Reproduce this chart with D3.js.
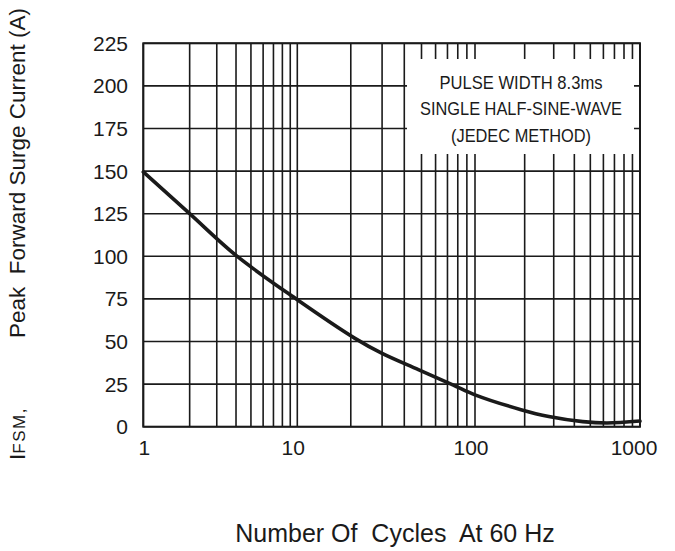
<!DOCTYPE html>
<html>
<head>
<meta charset="utf-8">
<script src="https://cdn.jsdelivr.net/npm/d3@7"></script>
<style>
  html, body { margin: 0; padding: 0; background: #fff; }
  svg { display: block; }
  text { font-family: "Liberation Sans", Arial, Helvetica, sans-serif; fill: #1a1a1a; }
</style>
</head>
<body>
<svg id="chart" width="675" height="551"></svg>
<script>
// ---- data ----
const cycles  = [1, 2, 4, 10, 21, 30, 48, 75, 100, 190, 280, 450, 630, 1000];
const current = [149.5, 125, 100.5, 74.5, 52, 43, 33.5, 24.6, 18.7, 10, 6, 3, 2.2, 3.3];
const xTickValues = [1, 10, 100, 1000];
const xTickLabels = ["1", "10", "100", "1000"];
const yTickValues = [0, 25, 50, 75, 100, 125, 150, 175, 200, 225];
const legendLines = ["PULSE WIDTH 8.3ms", "SINGLE HALF-SINE-WAVE", "(JEDEC METHOD)"];
const xTitle = "Number Of  Cycles  At 60 Hz";
const yTitleMain = "I";
const yTitleSub = "FSM,";
const yTitleRest = "Peak  Forward Surge Current (A)";

// ---- layout ----
const svg = d3.select("#chart");
const L = 143.3, R = 640, T = 43.3, B = 426.7;

// x: logarithmic decades (the drawn decades are slightly unequal in the original)
const xDec = d3.scaleLinear().domain([0, 1, 2, 3]).range([L, 297.3, 475, R]);
const x = v => xDec(Math.log10(v));
const y = d3.scaleLinear().domain([0, 225]).range([B, T]);

// minor / major vertical grid values
const gridX = [];
for (let d = 1; d <= 100; d *= 10) for (let k = 1; k <= 9; k++) gridX.push(k * d);
gridX.push(1000);

const g = svg.append("g");
const ink = "#1a1a1a";

// vertical grid
g.selectAll("line.vx").data(gridX).enter().append("line")
  .attr("x1", d => x(d)).attr("x2", d => x(d))
  .attr("y1", T).attr("y2", B)
  .attr("stroke", ink).attr("stroke-width", 1.6);

// horizontal grid
g.selectAll("line.hy").data(yTickValues).enter().append("line")
  .attr("x1", L).attr("x2", R)
  .attr("y1", d => y(d)).attr("y2", d => y(d))
  .attr("stroke", ink).attr("stroke-width", 1.6);

// legend box (white, hides grid)
const boxX0 = 407, boxX1 = 634, boxY0 = 59, boxY1 = 154;
g.append("rect").attr("x", boxX0).attr("y", boxY0)
  .attr("width", boxX1 - boxX0).attr("height", boxY1 - boxY0)
  .attr("fill", "#fff");

const legendTextLen = [163, 202, 140];
g.selectAll("text.leg").data(legendLines).enter().append("text")
  .attr("x", 521).attr("y", (d, i) => 88.5 + i * 26.5)
  .attr("text-anchor", "middle")
  .attr("textLength", (d, i) => legendTextLen[i])
  .attr("lengthAdjust", "spacingAndGlyphs")
  .style("font-size", "19px")
  .text(d => d);

// frame
g.append("rect").attr("x", L).attr("y", T).attr("width", R - L).attr("height", B - T)
  .attr("fill", "none").attr("stroke", ink).attr("stroke-width", 2);

// curve
const line = d3.line()
  .x((d, i) => x(cycles[i]))
  .y((d, i) => y(current[i]))
  .curve(d3.curveCatmullRom.alpha(0.5));
g.append("path").datum(current)
  .attr("d", line)
  .attr("fill", "none").attr("stroke", ink).attr("stroke-width", 3.6)
  .attr("stroke-linecap", "round");

// x tick labels
const xLabelShift = [1, -4, -4, -6];
g.selectAll("text.xt").data(xTickValues).enter().append("text")
  .attr("x", (d, i) => x(d) + xLabelShift[i]).attr("y", 455)
  .attr("text-anchor", "middle")
  .style("font-size", "21px")
  .text((d, i) => xTickLabels[i]);

// y tick labels
g.selectAll("text.yt").data(yTickValues).enter().append("text")
  .attr("x", 128).attr("y", d => y(d))
  .attr("dy", "0.36em")
  .attr("text-anchor", "end")
  .style("font-size", "21px")
  .text(d => d);

// x title
svg.append("text")
  .attr("x", 395).attr("y", 542)
  .attr("text-anchor", "middle")
  .style("font-size", "25px")
  .style("white-space", "pre")
  .text(xTitle);

// y title (rotated, reads bottom to top)
const yt = svg.append("text")
  .attr("transform", "translate(25,0) rotate(-90)")
  .style("font-size", "22.5px")
  .style("white-space", "pre");
yt.append("tspan").attr("x", -460).text(yTitleMain);
yt.append("tspan").style("font-size", "17px").style("letter-spacing", "1.5px").text(yTitleSub);
yt.append("tspan").attr("x", -338).text(yTitleRest);
</script>
</body>
</html>
